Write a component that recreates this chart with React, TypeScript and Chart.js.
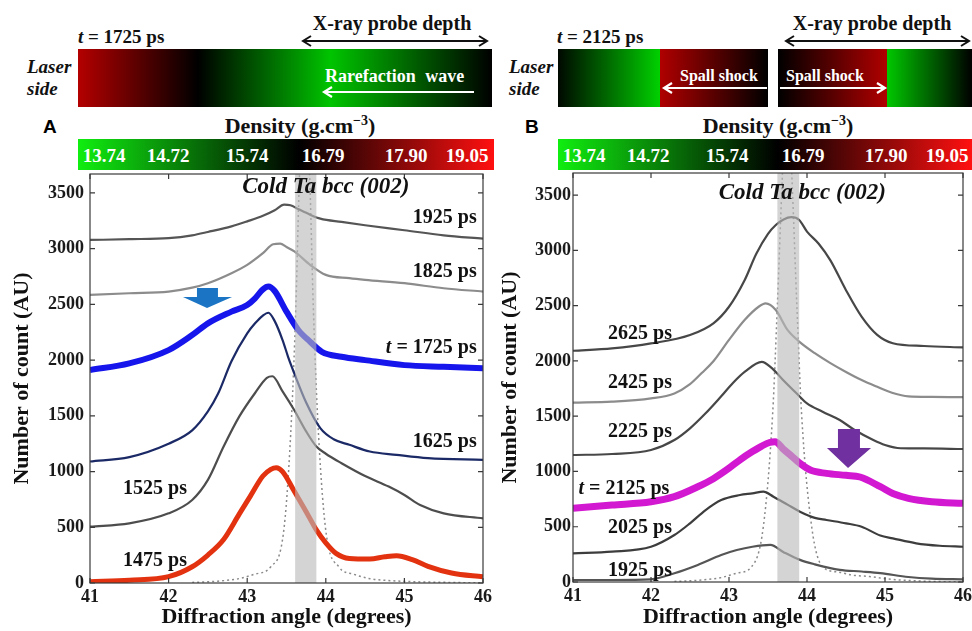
import React, { useEffect, useRef } from "react";
import { Chart, registerables } from "chart.js";

Chart.register(...registerables);

type Pt = [number, number];

// ---------- axes ----------
const angleTicks = [41, 42, 43, 44, 45, 46];
const countTicks = [0, 500, 1000, 1500, 2000, 2500, 3000, 3500];
const densityTicks = ["13.74", "14.72", "15.74", "16.79", "17.90", "19.05"];

// ---------- Panel A : [angle (deg), counts (AU)] ----------
const a1925: Pt[] = [[41, 3078], [41.5, 3085], [42, 3095], [42.3, 3120], [42.5, 3150], [42.8, 3200], [43, 3245], [43.2, 3295], [43.35, 3345], [43.47, 3395], [43.55, 3390], [43.65, 3355], [43.8, 3305], [43.93, 3270], [44.2, 3240], [44.5, 3210], [45, 3165], [45.5, 3120], [46, 3090]];
const a1825: Pt[] = [[41, 2585], [41.5, 2600], [42, 2615], [42.3, 2650], [42.5, 2690], [42.8, 2780], [43, 2855], [43.2, 2960], [43.33, 3040], [43.42, 3045], [43.5, 3015], [43.6, 2975], [43.8, 2855], [44, 2765], [44.3, 2735], [44.5, 2720], [45, 2690], [45.5, 2645], [46, 2615]];
const a1725: Pt[] = [[41, 1911], [41.5, 1970], [42, 2090], [42.3, 2225], [42.5, 2330], [42.8, 2435], [43, 2495], [43.1, 2555], [43.2, 2635], [43.27, 2660], [43.35, 2620], [43.5, 2435], [43.65, 2270], [43.8, 2165], [43.95, 2075], [44.2, 2030], [44.5, 2000], [45, 1955], [45.5, 1940], [46, 1927]];
const a1625: Pt[] = [[41, 1090], [41.5, 1130], [42, 1250], [42.3, 1370], [42.5, 1540], [42.63, 1700], [42.8, 1990], [43, 2240], [43.1, 2330], [43.2, 2400], [43.27, 2425], [43.35, 2350], [43.45, 2180], [43.52, 2030], [43.6, 1880], [43.75, 1620], [43.93, 1390], [44.1, 1290], [44.3, 1240], [44.56, 1180], [44.9, 1150], [45.3, 1120], [46, 1105]];
const a1525: Pt[] = [[41, 505], [41.5, 535], [42, 625], [42.3, 745], [42.5, 925], [42.7, 1225], [42.9, 1495], [43.1, 1705], [43.25, 1840], [43.32, 1855], [43.45, 1720], [43.6, 1550], [43.75, 1360], [43.88, 1225], [44, 1160], [44.2, 1075], [44.5, 960], [44.8, 865], [45, 790], [45.2, 700], [45.5, 625], [46, 580]];
const a1475: Pt[] = [[41, 12], [41.5, 25], [42, 57], [42.3, 146], [42.5, 251], [42.7, 390], [42.9, 620], [43.04, 780], [43.2, 960], [43.3, 1020], [43.37, 1035], [43.45, 1000], [43.59, 835], [43.75, 640], [43.88, 476], [44, 360], [44.13, 266], [44.3, 220], [44.56, 215], [44.75, 235], [44.9, 245], [45.1, 210], [45.3, 150], [45.6, 90], [46, 55]];
const aCold: Pt[] = [[42.3, 5], [42.6, 15], [42.9, 40], [43.1, 80], [43.3, 146], [43.47, 500], [43.565, 1500], [43.62, 2500], [43.665, 3650], [43.73, 4600], [43.795, 3650], [43.84, 2500], [43.895, 1500], [43.995, 500], [44.165, 146], [44.35, 80], [44.55, 40], [44.85, 20], [45.2, 10], [45.6, 5], [46, 0]];

// ---------- Panel B : [angle (deg), counts (AU)] ----------
const b2625: Pt[] = [[41, 2092], [41.5, 2113], [42, 2158], [42.5, 2234], [42.8, 2340], [43, 2490], [43.2, 2730], [43.35, 2970], [43.5, 3150], [43.6, 3230], [43.7, 3280], [43.8, 3300], [43.9, 3275], [44, 3170], [44.15, 3060], [44.3, 2910], [44.5, 2640], [44.7, 2400], [44.9, 2235], [45.1, 2160], [45.5, 2135], [46, 2122]];
const b2425: Pt[] = [[41, 1622], [41.5, 1631], [42, 1661], [42.3, 1706], [42.5, 1790], [42.65, 1890], [42.8, 1997], [43, 2190], [43.2, 2370], [43.38, 2490], [43.47, 2520], [43.6, 2460], [43.75, 2280], [43.9, 2175], [44.1, 2070], [44.3, 1980], [44.5, 1900], [44.7, 1827], [44.9, 1766], [45.1, 1710], [45.3, 1680], [45.6, 1675], [46, 1672]];
const b2225: Pt[] = [[41, 1149], [41.5, 1158], [42, 1194], [42.3, 1284], [42.5, 1390], [42.7, 1526], [42.9, 1680], [43.05, 1800], [43.2, 1900], [43.42, 1992], [43.55, 1935], [43.69, 1830], [43.89, 1690], [44, 1615], [44.2, 1540], [44.42, 1465], [44.6, 1380], [44.85, 1285], [45, 1240], [45.2, 1210], [45.5, 1208], [46, 1203]];
const b2125: Pt[] = [[41, 666], [41.5, 696], [42, 726], [42.3, 772], [42.6, 862], [42.8, 935], [43, 1030], [43.15, 1110], [43.3, 1180], [43.42, 1230], [43.52, 1262], [43.59, 1269], [43.7, 1200], [43.8, 1140], [43.91, 1073], [44.05, 1010], [44.25, 983], [44.5, 965], [44.68, 950], [44.94, 862], [45.1, 800], [45.3, 757], [45.6, 726], [46, 712]];
const b2025: Pt[] = [[41, 259], [41.5, 274], [42, 319], [42.3, 425], [42.5, 531], [42.7, 651], [42.9, 742], [43.14, 787], [43.3, 802], [43.44, 817], [43.57, 772], [43.75, 700], [43.91, 636], [44.1, 580], [44.25, 561], [44.5, 531], [44.7, 500], [44.94, 420], [45.1, 395], [45.4, 350], [45.7, 328], [46, 319]];
const b1925: Pt[] = [[41, 18], [41.5, 18], [42, 24], [42.3, 79], [42.6, 154], [42.9, 244], [43.1, 289], [43.3, 319], [43.53, 335], [43.7, 270], [43.91, 200], [44.1, 160], [44.42, 110], [44.7, 95], [44.94, 80], [45.3, 45], [45.6, 30], [46, 24]];
const bCold: Pt[] = [[42.3, 5], [42.6, 15], [42.9, 40], [43.1, 80], [43.29, 138], [43.44, 500], [43.56, 1528], [43.62, 2500], [43.68, 3600], [43.745, 4600], [43.81, 3600], [43.87, 2500], [43.93, 1528], [44.06, 500], [44.2, 138], [44.4, 90], [44.6, 60], [44.8, 50], [45, 30], [45.4, 10], [46, 0]];

// cold Ta bcc (002) window (deg)
const bandA = [43.61, 43.88];
const bandB = [43.62, 43.9];

const SERIF = "'Liberation Serif', 'Times New Roman', serif";

type Series = { pts: Pt[]; color: string; width: number; dash?: number[] };
type Part = { t: string; it?: boolean };
type Label = { parts: Part[]; x: number; y: number; align: "left" | "right" | "center"; size: number; italic?: boolean };
type PanelCfg = {
  id: string;
  left: number; top: number; w: number; h: number;
  padTop: number; padRight: number; yWidth: number; xHeight: number;
  yMax: number; tickPad: number; titlePad: number;
  series: Series[]; band: number[];
  arrow: Pt[]; arrowColor: string; labels: Label[];
};

const thin = 2.2;

const panelA: PanelCfg = {
  id: "A", left: 0, top: 164, w: 500, h: 467,
  padTop: 10, padRight: 17, yWidth: 90, xHeight: 48, yMax: 3670, tickPad: 6, titlePad: 9,
  series: [
    { pts: a1475, color: "#e2320f", width: 5 },
    { pts: a1725, color: "#1515ec", width: 6 },
    { pts: a1925, color: "#555555", width: thin },
    { pts: a1825, color: "#8c8c8c", width: thin },
    { pts: a1625, color: "#1b2a66", width: thin },
    { pts: a1525, color: "#4d4d4d", width: thin },
    { pts: aCold, color: "#8a8a8a", width: 1.5, dash: [2, 3] },
  ],
  band: bandA,
  arrow: [[42.361, 2647], [42.628, 2647], [42.628, 2567], [42.807, 2567], [42.489, 2468], [42.183, 2567], [42.361, 2567]],
  arrowColor: "#1b75c4",
  labels: [
    { parts: [{ t: "Cold Ta bcc (002)" }], x: 44.0, y: 3557, align: "center", size: 23, italic: true },
    { parts: [{ t: "1925 ps" }], x: 45.92, y: 3273, align: "right", size: 20 },
    { parts: [{ t: "1825 ps" }], x: 45.92, y: 2791, align: "right", size: 20 },
    { parts: [{ t: "t", it: true }, { t: " = 1725 ps" }], x: 45.92, y: 2113, align: "right", size: 20 },
    { parts: [{ t: "1625 ps" }], x: 45.92, y: 1268, align: "right", size: 20 },
    { parts: [{ t: "1525 ps" }], x: 41.42, y: 844, align: "left", size: 20 },
    { parts: [{ t: "1475 ps" }], x: 41.42, y: 200, align: "left", size: 20 },
  ],
};

const panelB: PanelCfg = {
  id: "B", left: 480, top: 164, w: 492, h: 467,
  padTop: 9, padRight: 9, yWidth: 93, xHeight: 49, yMax: 3700, tickPad: 2, titlePad: 17,
  series: [
    { pts: b2125, color: "#d218d0", width: 7 },
    { pts: b2625, color: "#474747", width: thin },
    { pts: b2425, color: "#8c8c8c", width: thin },
    { pts: b2225, color: "#474747", width: thin },
    { pts: b2025, color: "#3d3d3d", width: thin },
    { pts: b1925, color: "#555555", width: thin },
    { pts: bCold, color: "#8a8a8a", width: 1.5, dash: [2, 3] },
  ],
  band: bandB,
  arrow: [[44.397, 1384], [44.679, 1384], [44.679, 1212], [44.821, 1212], [44.526, 1031], [44.256, 1212], [44.397, 1212]],
  arrowColor: "#7030a0",
  labels: [
    { parts: [{ t: "Cold Ta bcc (002)" }], x: 43.94, y: 3515, align: "center", size: 23, italic: true },
    { parts: [{ t: "2625 ps" }], x: 41.45, y: 2243, align: "left", size: 20 },
    { parts: [{ t: "2425 ps" }], x: 41.45, y: 1806, align: "left", size: 20 },
    { parts: [{ t: "2225 ps" }], x: 41.45, y: 1354, align: "left", size: 20 },
    { parts: [{ t: "t", it: true }, { t: " = 2125 ps" }], x: 41.07, y: 841, align: "left", size: 20 },
    { parts: [{ t: "2025 ps" }], x: 41.45, y: 494, align: "left", size: 20 },
    { parts: [{ t: "1925 ps" }], x: 41.45, y: 102, align: "left", size: 20 },
  ],
};

function buildConfig(p: PanelCfg): any {
  const overlay = {
    id: "overlay" + p.id,
    afterDatasetsDraw(chart: any) {
      const { ctx, chartArea: ca, scales } = chart;
      const xs = scales.x;
      const ys = scales.y;
      ctx.save();
      // cold peak window
      const bx0 = xs.getPixelForValue(p.band[0]);
      const bx1 = xs.getPixelForValue(p.band[1]);
      ctx.fillStyle = "rgba(185,185,185,0.62)";
      ctx.fillRect(bx0, ca.top, bx1 - bx0, ca.bottom - ca.top);
      // arrow marker
      ctx.beginPath();
      p.arrow.forEach(([ax, ay], i) => {
        const px = xs.getPixelForValue(ax);
        const py = ys.getPixelForValue(ay);
        if (i === 0) ctx.moveTo(px, py);
        else ctx.lineTo(px, py);
      });
      ctx.closePath();
      ctx.fillStyle = p.arrowColor;
      ctx.fill();
      // frame + inward ticks
      ctx.strokeStyle = "#3a3a3a";
      ctx.lineWidth = 1.2;
      ctx.strokeRect(ca.left, ca.top, ca.right - ca.left, ca.bottom - ca.top);
      ctx.beginPath();
      angleTicks.forEach((v) => {
        const px = xs.getPixelForValue(v);
        ctx.moveTo(px, ca.bottom);
        ctx.lineTo(px, ca.bottom - 5);
        ctx.moveTo(px, ca.top);
        ctx.lineTo(px, ca.top + 5);
      });
      countTicks.forEach((v) => {
        const py = ys.getPixelForValue(v);
        ctx.moveTo(ca.left, py);
        ctx.lineTo(ca.left + 5, py);
        ctx.moveTo(ca.right, py);
        ctx.lineTo(ca.right - 5, py);
      });
      ctx.stroke();
      // labels
      ctx.fillStyle = "#111";
      ctx.textBaseline = "middle";
      ctx.textAlign = "left";
      p.labels.forEach((l) => {
        const fontFor = (it?: boolean) => `${it || l.italic ? "italic " : ""}bold ${l.size}px ${SERIF}`;
        const widths = l.parts.map((pt) => {
          ctx.font = fontFor(pt.it);
          return ctx.measureText(pt.t).width;
        });
        const total = widths.reduce((a, b) => a + b, 0);
        let px = xs.getPixelForValue(l.x);
        if (l.align === "right") px -= total;
        else if (l.align === "center") px -= total / 2;
        const py = ys.getPixelForValue(l.y);
        l.parts.forEach((pt, i) => {
          ctx.font = fontFor(pt.it);
          ctx.fillText(pt.t, px, py);
          px += widths[i];
        });
      });
      ctx.restore();
    },
  };

  const tickFont = { family: SERIF, size: 18, weight: "bold" as const };
  const titleFont = { family: SERIF, size: 22, weight: "bold" as const };

  return {
    type: "line",
    data: {
      datasets: p.series.map((s) => ({
        data: s.pts.map(([x, y]) => ({ x, y })),
        borderColor: s.color,
        borderWidth: s.width,
        borderDash: s.dash || [],
        pointRadius: 0,
        fill: false,
        cubicInterpolationMode: "monotone",
      })),
    },
    options: {
      animation: false,
      responsive: false,
      events: [],
      layout: { padding: { top: p.padTop, right: p.padRight, left: 0, bottom: 0 } },
      plugins: { legend: { display: false }, tooltip: { enabled: false } },
      scales: {
        x: {
          type: "linear",
          min: 41,
          max: 46,
          afterBuildTicks: (s: any) => {
            s.ticks = angleTicks.map((v) => ({ value: v }));
          },
          afterFit: (s: any) => {
            s.height = p.xHeight;
            s.paddingLeft = 0;
            s.paddingRight = 0;
          },
          grid: { display: false, drawTicks: false },
          border: { display: false },
          ticks: { font: tickFont, color: "#1a1a1a", padding: 4, maxRotation: 0, autoSkip: false, callback: (v: any) => String(v) },
          title: { display: true, text: "Diffraction angle (degrees)", font: titleFont, color: "#111", padding: { top: 0, bottom: 0 } },
        },
        y: {
          type: "linear",
          min: 0,
          max: p.yMax,
          afterBuildTicks: (s: any) => {
            s.ticks = countTicks.map((v) => ({ value: v }));
          },
          afterFit: (s: any) => {
            s.width = p.yWidth;
            s.paddingTop = 0;
            s.paddingBottom = 0;
          },
          grid: { display: false, drawTicks: false },
          border: { display: false },
          ticks: { font: tickFont, color: "#1a1a1a", padding: p.tickPad, autoSkip: false, callback: (v: any) => String(v) },
          title: { display: true, text: "Number of count (AU)", font: titleFont, color: "#111", padding: { top: p.titlePad, bottom: 0 } },
        },
      },
    },
    plugins: [overlay],
  };
}

function Panel({ cfg }: { cfg: PanelCfg }) {
  const ref = useRef<HTMLCanvasElement>(null);
  useEffect(() => {
    const chart = new Chart(ref.current as HTMLCanvasElement, buildConfig(cfg));
    return () => chart.destroy();
  }, [cfg]);
  return (
    <canvas
      ref={ref}
      width={cfg.w}
      height={cfg.h}
      style={{ position: "absolute", left: cfg.left, top: cfg.top, width: cfg.w, height: cfg.h }}
    />
  );
}

const txt = (size: number, extra: React.CSSProperties): React.CSSProperties => ({
  position: "absolute",
  fontFamily: SERIF,
  fontWeight: "bold",
  fontSize: size,
  lineHeight: 1,
  whiteSpace: "nowrap",
  color: "#111",
  ...extra,
});

const labelCenters = [26, 90, 169, 245, 328, 389];

function ColorBar({ left, width }: { left: number; width: number }) {
  return (
    <div
      style={{
        position: "absolute",
        left,
        top: 139,
        width,
        height: 31,
        background: "linear-gradient(to right, #10ee10 0%, #000000 53%, #ff1010 100%)",
      }}
    >
      {densityTicks.map((t, i) => (
        <div key={t} style={txt(19, { left: labelCenters[i] - 30, width: 60, textAlign: "center", top: 7, color: "#fff" })}>
          {t}
        </div>
      ))}
    </div>
  );
}

function Header() {
  const sup = <span style={{ fontSize: 14, position: "relative", top: -8 }}>−3</span>;
  return (
    <>
      {/* Panel A header */}
      <div style={txt(19, { left: 78, top: 27 })}><i>t</i> = 1725 ps</div>
      <div style={txt(20, { left: 292, top: 13, width: 200, textAlign: "center" })}>X-ray probe depth</div>
      <div style={txt(19, { left: 27, top: 56, fontStyle: "italic", lineHeight: "22px" })}>Laser<br />side</div>
      <div style={{ position: "absolute", left: 78, top: 49, width: 414, height: 58, background: "linear-gradient(to right, #b40000 0%, #000000 29%, #00c400 61%, #000000 100%)" }} />
      <div style={txt(18, { left: 325, top: 67, color: "#fff", wordSpacing: 5 })}>Rarefaction wave</div>
      <div style={{ position: "absolute", left: 43, top: 117, fontFamily: "'Liberation Sans', Arial, sans-serif", fontWeight: "bold", fontSize: 19, lineHeight: 1 }}>A</div>
      <div style={txt(22, { left: 200, width: 200, top: 115, textAlign: "center" })}>Density (g.cm{sup})</div>
      <ColorBar left={78} width={416} />

      {/* Panel B header */}
      <div style={txt(19, { left: 557, top: 27 })}><i>t</i> = 2125 ps</div>
      <div style={txt(20, { left: 772, top: 13, width: 200, textAlign: "center" })}>X-ray probe depth</div>
      <div style={txt(19, { left: 509, top: 56, fontStyle: "italic", lineHeight: "22px" })}>Laser<br />side</div>
      <div style={{ position: "absolute", left: 558, top: 49, width: 210, height: 58, background: "linear-gradient(to right, #000800 0%, #00d000 48.5%, #b00000 48.5%, #000000 100%)" }} />
      <div style={{ position: "absolute", left: 778, top: 49, width: 194, height: 58, background: "linear-gradient(to right, #000000 0%, #b00000 56%, #00c800 56%, #000000 100%)" }} />
      <div style={txt(16, { left: 680, top: 68, color: "#fff" })}>Spall shock</div>
      <div style={txt(16, { left: 786, top: 68, color: "#fff" })}>Spall shock</div>
      <div style={{ position: "absolute", left: 525, top: 117, fontFamily: "'Liberation Sans', Arial, sans-serif", fontWeight: "bold", fontSize: 19, lineHeight: 1 }}>B</div>
      <div style={txt(22, { left: 678, width: 200, top: 115, textAlign: "center" })}>Density (g.cm{sup})</div>
      <ColorBar left={558} width={414} />

      <svg width={972} height={120} style={{ position: "absolute", left: 0, top: 0 }}>
        <g stroke="#111" strokeWidth={2} fill="none">
          <line x1={303} y1={41} x2={487} y2={41} />
          <polyline points="311,36 303,41 311,46" />
          <polyline points="479,36 487,41 479,46" />
          <line x1={786} y1={41} x2={969} y2={41} />
          <polyline points="794,36 786,41 794,46" />
          <polyline points="961,36 969,41 961,46" />
        </g>
        <g stroke="#fff" strokeWidth={2.2} fill="none">
          <line x1={324} y1={92} x2={474} y2={92} />
          <polyline points="332,87 324,92 332,97" />
          <line x1={664} y1={88} x2={767} y2={88} />
          <polyline points="672,83 664,88 672,93" />
          <line x1={780} y1={88} x2={885} y2={88} />
          <polyline points="877,83 885,88 877,93" />
        </g>
      </svg>
    </>
  );
}

export default function App() {
  return (
    <div style={{ position: "absolute", left: 0, top: 0, width: 972, height: 631, background: "#fff", overflow: "hidden" }}>
      <Header />
      <Panel cfg={panelA} />
      <Panel cfg={panelB} />
    </div>
  );
}
